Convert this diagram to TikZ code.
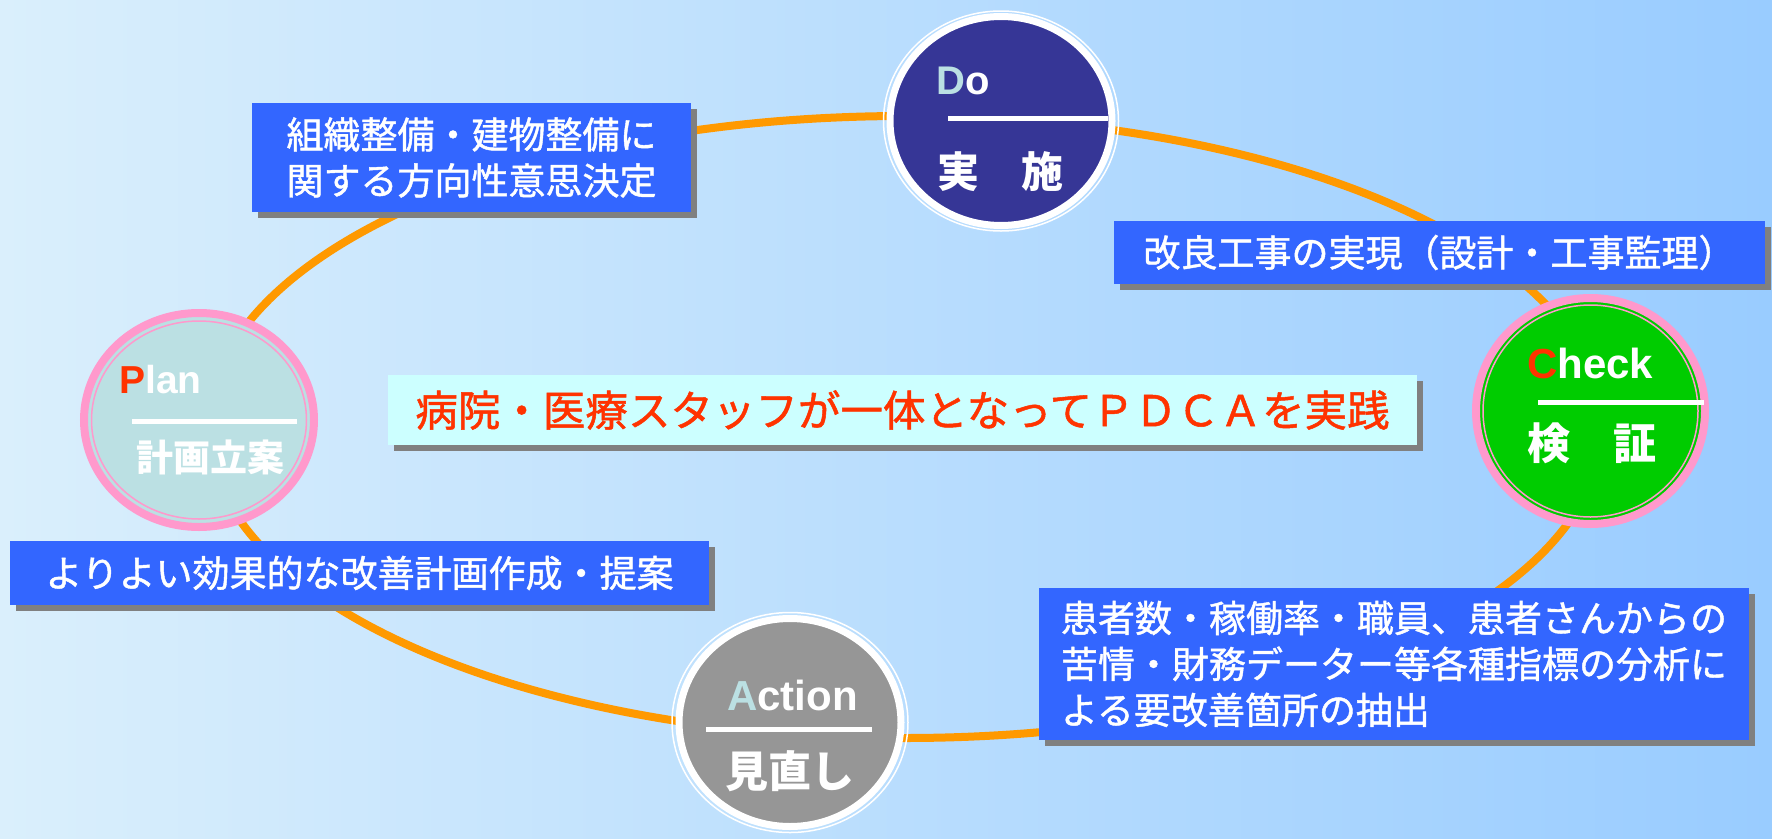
\documentclass[tikz,border=0pt]{standalone}
\usepackage{fontspec}
\setmainfont{Liberation Sans}
\newfontfamily\jpfont{Noto Sans CJK JP}
\newfontfamily\jpmid{Noto Sans CJK JP}[FakeBold=1.2]
\usepackage{tikz}
\usetikzlibrary{shapes.geometric, shadows}

\definecolor{bgleft}{RGB}{218,239,252}
\definecolor{bgright}{RGB}{153,204,255}
\definecolor{loopcol}{RGB}{255,153,0}
\definecolor{boxblue}{RGB}{51,102,255}
\definecolor{boxshadow}{RGB}{128,128,128}
\definecolor{centrefill}{RGB}{204,255,255}
\definecolor{letred}{RGB}{255,51,0}
\definecolor{dofill}{RGB}{54,54,150}
\definecolor{planfill}{RGB}{187,224,227}
\definecolor{checkfill}{RGB}{0,204,0}
\definecolor{actfill}{RGB}{150,150,150}
\definecolor{ringpink}{RGB}{255,153,204}

\begin{document}
\begin{tikzpicture}[
    x=1pt, y=-1pt,
    loopline/.style={draw=loopcol, line width=8},
    infobox/.style={fill=boxblue, text=white, inner sep=0pt, align=left, font=\jpmid\fontsize{37}{46}\selectfont, drop shadow={shadow xshift=6pt, shadow yshift=-6pt, fill=boxshadow, opacity=1}},
    mainbox/.style={infobox, fill=centrefill, text=letred, font=\jpmid\fontsize{42.5}{50}\selectfont},
    disc/.style={ellipse, inner sep=0pt},
    whitering/.style={disc, draw=white, line width=1.5},
    pinkring/.style={disc, draw=ringpink, line width=1.5},
    latin/.style={anchor=base west, inner sep=0pt, text=white, font=\bfseries\fontsize{#1}{#1}\selectfont},
    kanji/.style={anchor=west, inner sep=0pt, text=white, font=\jpfont\bfseries\fontsize{#1}{#1}\selectfont},
    bar/.style={draw=white, line width=5},
]

% Background
\fill[left color=bgleft, right color=bgright] (0,0) rectangle (1772,838);
\useasboundingbox (0,0) rectangle (1772,838);

% Cycle
\coordinate (loopc) at (905,427);
\draw[loopline] (loopc) ellipse [x radius=697, y radius=311];

% Text boxes
\node[infobox, minimum width=439, minimum height=109] (policy) at (471.5,157.5) {組織整備・建物整備に\\関する方向性意思決定};
\node[infobox, minimum width=651, minimum height=63] (works) at (1439.5,252.5) {改良工事の実現（設計・工事監理）};
\node[mainbox, minimum width=1029, minimum height=70] (slogan) at (902.5,410) {病院・医療スタッフが一体となってＰＤＣＡを実践};
\node[infobox, minimum width=710, minimum height=152] (analysis) at (1394,664) {患者数・稼働率・職員、患者さんからの\\苦情・財務データー等各種指標の分析に\\よる要改善箇所の抽出};
\node[infobox, minimum width=699, minimum height=64] (proposal) at (359.5,573) {よりよい効果的な改善計画作成・提案};

% Do
\node[whitering, minimum width=235, minimum height=220] (doring) at (1001,121) {};
\node[disc, minimum width=222, minimum height=209, fill=dofill, draw=white, line width=7] (do) at (1001,121) {};
\node[latin=40] (dolbl) at (936,94) {\textcolor{planfill}{D}o};
\draw[bar] (948,118) -- ++(160,0);
\node[kanji=42] (dotxt) at (937,172) {実　施};

% Plan
\node[disc, minimum width=230, minimum height=214, fill=planfill, draw=ringpink, line width=8] (plan) at (199,420) {};
\node[pinkring, minimum width=215, minimum height=198] (planring) at (199,420) {};
\node[latin=39] (planlbl) at (119,393) {\textcolor{letred}{P}lan};
\draw[bar] (132,421) -- ++(165,0);
\node[kanji=37] (plantxt) at (136,457) {計画立案};

% Check
\node[disc, minimum width=229, minimum height=226, fill=checkfill, draw=ringpink, line width=8] (check) at (1590.5,411) {};
\node[pinkring, minimum width=215, minimum height=212] (checkring) at (1590.5,411) {};
\node[latin=42] (checklbl) at (1527,378) {\textcolor{letred}{C}heck};
\draw[bar] (1538,402) -- ++(166,0);
\node[kanji=43] (checktxt) at (1527,443) {検　証};

% Action
\node[whitering, minimum width=236, minimum height=220] (actring) at (790,722.5) {};
\node[disc, minimum width=222, minimum height=208, fill=actfill, draw=white, line width=7] (act) at (790,722.5) {};
\node[latin=42] (actlbl) at (727,710) {\textcolor{planfill}{A}ction};
\draw[bar] (706,729) -- ++(166,0);
\node[kanji=43] (acttxt) at (725,771) {見直し};

\end{tikzpicture}
\end{document}
